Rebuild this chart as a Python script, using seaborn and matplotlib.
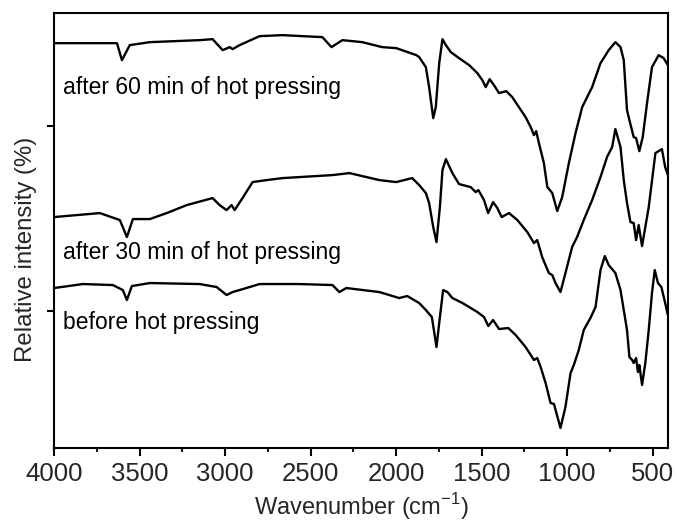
import matplotlib
matplotlib.use("Agg")
import matplotlib.pyplot as plt
import numpy as np
import pandas as pd
import seaborn as sns
from matplotlib.ticker import MultipleLocator

# SPECTRA (arbitrary intensity units)

wn_60 = [4000, 3632, 3603, 3557, 3440, 3148, 3073, 3014, 2973, 2956, 2915, 2798, 2664, 2431, 2378,
         2314, 2198, 2081, 1999, 1882, 1865, 1826, 1807, 1783, 1768, 1748, 1729, 1709, 1680, 1632,
         1573, 1525, 1496, 1476, 1453, 1428, 1398, 1356, 1321, 1282, 1243, 1213, 1194, 1181, 1165,
         1136, 1116, 1101, 1087, 1058, 1029, 990, 951, 912, 854, 805, 757, 718, 688, 669, 650,
         636, 611, 597, 578, 558, 533, 504, 465, 436, 411]
int_60 = [405, 405, 388, 403, 406, 408, 409, 398, 401, 399, 403, 412, 413, 411, 401,
          408, 406, 401, 400, 393, 391, 381, 361, 330, 341, 385, 409, 403, 396, 390,
          383, 375, 368, 361, 369, 363, 355, 357, 351, 341, 331, 321, 313, 317, 305,
          285, 261, 258, 255, 237, 251, 285, 315, 341, 361, 385, 398, 406, 401, 388, 338,
          328, 311, 310, 297, 311, 345, 381, 393, 390, 383]

wn_30 = [4000, 3732, 3615, 3574, 3539, 3440, 3341, 3224, 3073, 3032, 2991, 2962, 2944, 2898, 2839,
         2757, 2664, 2565, 2372, 2273, 2098, 1999, 1906, 1865, 1826, 1807, 1783, 1764, 1744, 1729,
         1709, 1671, 1632, 1564, 1535, 1519, 1486, 1462, 1433, 1408, 1383, 1340, 1291, 1233, 1194,
         1175, 1146, 1107, 1087, 1068, 1039, 1010, 971, 942, 903, 854, 805, 767, 737, 718, 688,
         669, 650, 630, 611, 597, 582, 562, 523, 484, 446, 427, 407]
int_30 = [231, 235, 228, 211, 229, 229, 235, 243, 250, 243, 238, 243, 238, 250, 266,
          268, 270, 271, 273, 275, 268, 266, 270, 263, 255, 245, 221, 206, 241, 278,
          289, 275, 264, 261, 256, 258, 248, 235, 246, 240, 231, 235, 228, 216, 205,
          208, 191, 175, 173, 165, 156, 175, 201, 211, 228, 248, 271, 291, 301, 319, 301,
          268, 245, 226, 225, 208, 223, 202, 241, 295, 299, 281, 271]

wn_0 = [4000, 3831, 3656, 3598, 3574, 3545, 3440, 3148, 3049, 2991, 2956, 2915, 2798, 2565, 2372,
        2332, 2291, 2098, 1982, 1935, 1865, 1826, 1791, 1764, 1744, 1725, 1700, 1671, 1612, 1525,
        1486, 1461, 1433, 1398, 1344, 1301, 1243, 1194, 1175, 1155, 1126, 1097, 1077, 1039, 1010,
        980, 961, 932, 903, 864, 834, 805, 780, 757, 718, 688, 650, 636, 620, 611, 597, 586, 578,
        562, 543, 523, 504, 488, 469, 449, 427, 407]
int_0 = [160, 164, 163, 158, 148, 162, 165, 164, 161, 153, 156, 158, 164, 164, 163,
         156, 160, 156, 150, 152, 145, 138, 131, 101, 131, 158, 156, 150, 145, 136,
         131, 122, 128, 119, 120, 113, 101, 88, 90, 81, 65, 45, 44, 20, 41,
         75, 83, 98, 118, 130, 141, 178, 192, 183, 175, 158, 118, 91, 88, 85, 90, 76, 83,
         63, 85, 118, 155, 178, 165, 161, 145, 130]

labels = ["after 60 min of hot pressing", "after 30 min of hot pressing", "before hot pressing"]
y_ticks = [137, 322]
x_ticks = [4000, 3500, 3000, 2500, 2000, 1500, 1000, 500]

# DATAFRAME

frames = []
for lab, wn, inten in zip(labels, [wn_60, wn_30, wn_0], [int_60, int_30, int_0]):
    frames.append(pd.DataFrame({"wavenumber": wn, "intensity": inten, "sample": lab}))
data = pd.concat(frames, ignore_index=True)

# PLOT

sns.set_style("ticks")
plt.rcParams["font.family"] = ["Liberation Sans", "DejaVu Sans"]

fig = plt.figure(figsize=(6.77, 5.22), dpi=100)
ax = fig.add_axes([0.0798, 0.1418, 0.907, 0.833])

sns.lineplot(data=data, x="wavenumber", y="intensity", units="sample", estimator=None,
             sort=False, color="black", linewidth=1.7, ax=ax)

ax.set_xlim(4000, 410)
ax.set_ylim(0, 435)
ax.set_xticks(x_ticks)
ax.xaxis.set_minor_locator(MultipleLocator(250))
ax.set_yticks(y_ticks)
ax.set_yticklabels([])

ax.tick_params(axis="x", which="major", direction="out", length=6, width=1.5,
               labelsize=18.5, pad=4, color="black")
ax.tick_params(axis="x", which="minor", direction="out", length=3, width=1.3, color="black")
ax.tick_params(axis="y", which="major", direction="out", length=5, width=1.5, color="black")
for sp in ax.spines.values():
    sp.set_linewidth(1.5)
    sp.set_color("black")

ax.set_xlabel("Wavenumber (cm$^{\\mathregular{-1}}$)", fontsize=17, labelpad=3.5)
ax.set_ylabel("Relative intensity (%)", fontsize=17.3)
ax.yaxis.set_label_coords(-0.028, 0.457)

# sample labels
label_y = [361, 196, 126]
for lab, yy in zip(labels, label_y):
    ax.text(3945, yy, lab, fontsize=16.5, ha="left", va="center", color="black")

fig.savefig("out.png", dpi=100)
